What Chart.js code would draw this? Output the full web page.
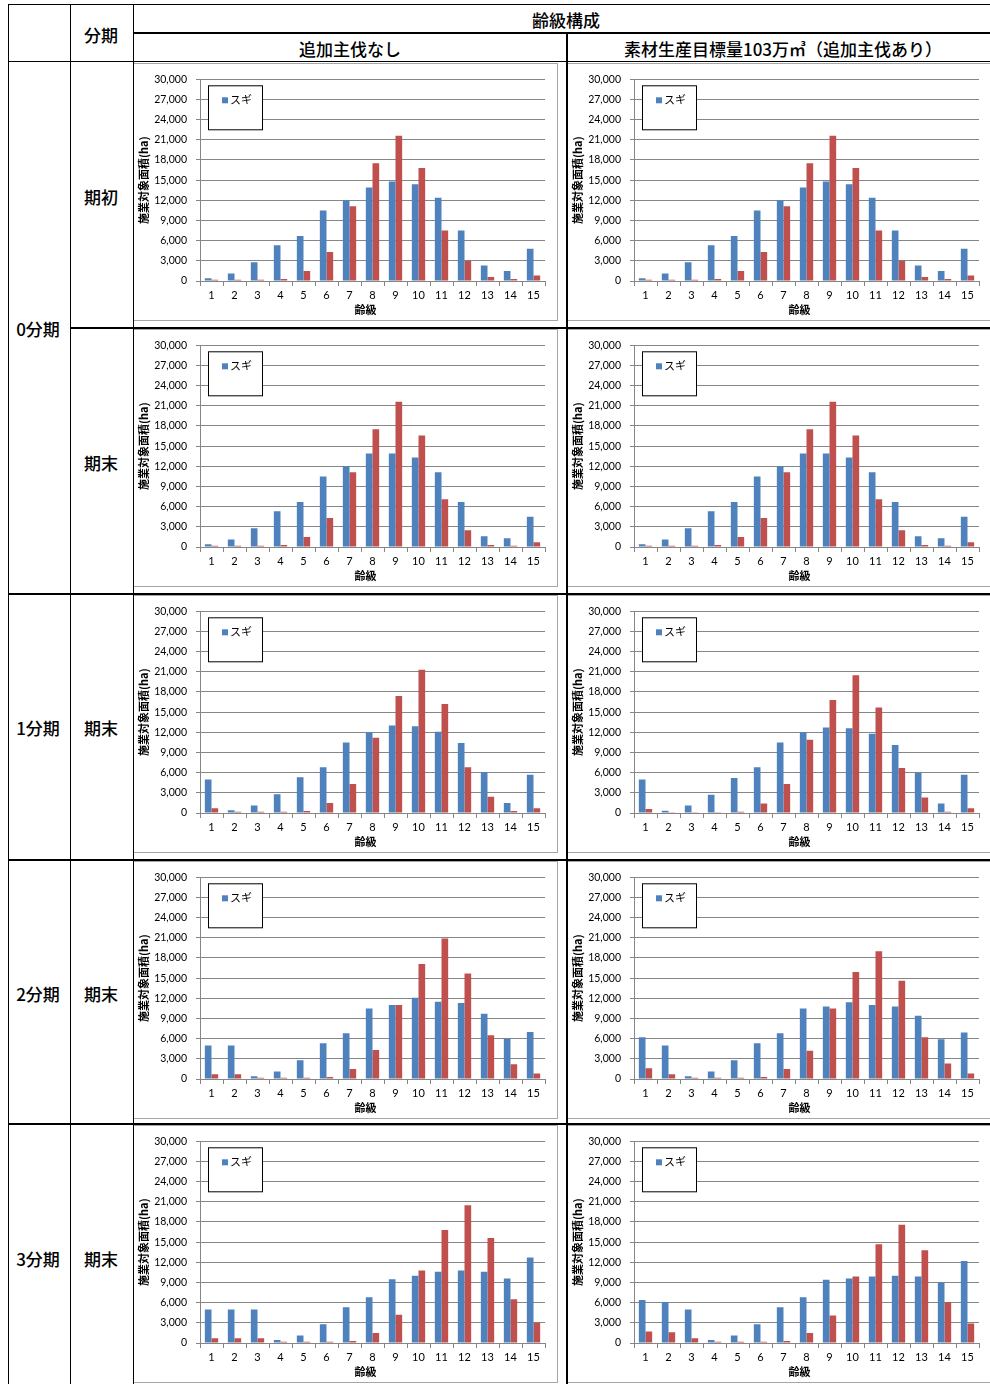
<!DOCTYPE html>
<html>
<head>
<meta charset="utf-8">
<script src="https://cdn.jsdelivr.net/npm/chart.js"></script>
<style>
  body { margin: 0; background: #fff; }
  #page { position: relative; width: 990px; height: 1384px; overflow: hidden; font-family: "Noto Sans CJK JP", sans-serif; }
  .ln { position: absolute; background: #000; }
  .lbl { position: absolute; transform: translate(-50%, -50%); font-size: 17px; font-weight: 500; white-space: nowrap; color: #000; }
  .box { position: absolute; border: 1px solid #a6a6a6; background: #fff; }
  .box canvas { display: block; }
</style>
</head>
<body>
<div id="page"></div>
<script>
const ageClasses = ['1', '2', '3', '4', '5', '6', '7', '8', '9', '10', '11', '12', '13', '14', '15'];
const yTickValues = [0, 3000, 6000, 9000, 12000, 15000, 18000, 21000, 24000, 27000, 30000];
const legendLabel = 'スギ';
const yTitle = '施業対象面積(ha)';
const xTitle = '齢級';

// 0分期 (same in both columns)
const blueP0Start = [400, 1100, 2800, 5300, 6700, 10500, 12000, 13900, 14800, 14400, 12400, 7500, 2300, 1500, 4800];
const redP0Start = [200, 200, 200, 300, 1500, 4300, 11100, 17500, 21600, 16800, 7500, 3000, 600, 300, 800];
const blueP0End = [400, 1100, 2800, 5300, 6700, 10500, 12000, 13900, 13900, 13300, 11100, 6700, 1600, 1300, 4500];
const redP0End = [200, 200, 200, 300, 1500, 4300, 11100, 17500, 21600, 16600, 7100, 2500, 300, 200, 700];

// 追加主伐なし
const blueP1None = [5000, 400, 1100, 2800, 5300, 6800, 10500, 12000, 13000, 12900, 12100, 10400, 6100, 1500, 5700];
const redP1None = [700, 200, 200, 200, 300, 1500, 4300, 11200, 17400, 21300, 16200, 6800, 2400, 300, 700];
const blueP2None = [5000, 5000, 400, 1100, 2800, 5300, 6800, 10500, 11000, 12100, 11500, 11300, 9700, 6000, 7000];
const redP2None = [700, 700, 200, 200, 200, 300, 1500, 4300, 11000, 17100, 20900, 15700, 6500, 2200, 800];
const blueP3None = [5000, 5000, 5000, 450, 1100, 2800, 5300, 6800, 9500, 10000, 10600, 10800, 10600, 9600, 12700];
const redP3None = [700, 700, 700, 200, 200, 200, 300, 1500, 4200, 10800, 16800, 20500, 15600, 6500, 3000];

// 素材生産目標量103万㎥（追加主伐あり）
const blueP1Add = [5000, 350, 1100, 2700, 5200, 6800, 10500, 12000, 12700, 12600, 11800, 10100, 6000, 1400, 5700];
const redP1Add = [600, 100, 100, 50, 200, 1400, 4300, 10900, 16800, 20500, 15700, 6700, 2300, 200, 700];
const blueP2Add = [6200, 5000, 400, 1100, 2800, 5300, 6800, 10500, 10800, 11400, 11000, 10800, 9400, 5900, 6900];
const redP2Add = [1600, 700, 200, 200, 200, 300, 1500, 4200, 10500, 15900, 19000, 14600, 6200, 2300, 800];
const blueP3Add = [6400, 6100, 5000, 450, 1100, 2800, 5300, 6800, 9400, 9600, 9900, 10000, 9900, 9000, 12200];
const redP3Add = [1700, 1600, 700, 200, 200, 200, 300, 1500, 4100, 9900, 14700, 17600, 13800, 6100, 2900];

const charts = [
  { row: 0, col: 0, blue: blueP0Start, red: redP0Start },
  { row: 0, col: 1, blue: blueP0Start, red: redP0Start },
  { row: 1, col: 0, blue: blueP0End, red: redP0End },
  { row: 1, col: 1, blue: blueP0End, red: redP0End },
  { row: 2, col: 0, blue: blueP1None, red: redP1None },
  { row: 2, col: 1, blue: blueP1Add, red: redP1Add },
  { row: 3, col: 0, blue: blueP2None, red: redP2None },
  { row: 3, col: 1, blue: blueP2Add, red: redP2Add },
  { row: 4, col: 0, blue: blueP3None, red: redP3None },
  { row: 4, col: 1, blue: blueP3Add, red: redP3Add },
];

const page = document.getElementById('page');
const rowTops = [62, 328, 594, 860, 1124];
const colLefts = [133, 567];

function line(x, y, w, h) {
  const d = document.createElement('div');
  d.className = 'ln';
  d.style.left = x + 'px'; d.style.top = y + 'px';
  d.style.width = w + 'px'; d.style.height = h + 'px';
  page.appendChild(d);
}
function label(text, x, y) {
  const d = document.createElement('div');
  d.className = 'lbl';
  d.textContent = text;
  d.style.left = x + 'px'; d.style.top = y + 'px';
  page.appendChild(d);
}

// boxed legend inside the plot + x title (Excel puts it a bit left of the plot centre)
const boxLegend = {
  id: 'boxLegend',
  afterDraw(chart) {
    const { ctx, chartArea } = chart;
    const ds = chart.data.datasets[0];
    const x = chartArea.left + 8, y = chartArea.top + 6;
    ctx.save();
    ctx.fillStyle = '#fff';
    ctx.fillRect(x, y, 54, 44);
    ctx.strokeStyle = '#000';
    ctx.lineWidth = 1;
    ctx.strokeRect(x + 0.5, y + 0.5, 54, 44);
    ctx.fillStyle = ds.backgroundColor;
    ctx.fillRect(x + 14, y + 12, 6, 6);
    ctx.fillStyle = '#000';
    ctx.font = '11px "Noto Sans CJK JP"';
    ctx.textBaseline = 'middle';
    ctx.fillText(ds.label, x + 22, y + 15);

    ctx.font = 'bold 11px "Noto Sans CJK JP"';
    ctx.textAlign = 'center';
    ctx.fillText(xTitle, (chartArea.left + chartArea.right) / 2 - 7, chartArea.bottom + 29);
    ctx.restore();
  }
};

charts.forEach(c => {
  const box = document.createElement('div');
  box.className = 'box';
  box.style.left = colLefts[c.col] + 'px';
  box.style.top = (rowTops[c.row] + 1) + 'px';
  const cv = document.createElement('canvas');
  cv.width = 423; cv.height = 256;
  box.appendChild(cv);
  page.appendChild(box);

  new Chart(cv.getContext('2d'), {
    type: 'bar',
    data: {
      labels: ageClasses,
      datasets: [
        { label: legendLabel, data: c.blue, backgroundColor: '#4F81BD', categoryPercentage: 0.58, barPercentage: 1.0 },
        { label: '', data: c.red, backgroundColor: '#C0504D', categoryPercentage: 0.58, barPercentage: 1.0 }
      ]
    },
    options: {
      responsive: false,
      animation: false,
      devicePixelRatio: 1,
      layout: { padding: { left: 0, right: 12, top: 15, bottom: 0 } },
      plugins: { legend: { display: false }, tooltip: { enabled: false } },
      scales: {
        x: {
          afterFit: s => { s.height = 39; },
          grid: { display: true, drawOnChartArea: false, tickLength: 5, color: '#868686', offset: true },
          border: { color: '#868686' },
          ticks: { color: '#000', padding: 3, font: { family: 'Lato', size: 11 } }
        },
        y: {
          min: 0, max: 30000,
          afterFit: s => { s.width = 66; },
          afterBuildTicks: s => { s.ticks = yTickValues.map(v => ({ value: v })); },
          grid: { color: '#868686', tickLength: 4 },
          border: { color: '#868686' },
          ticks: { color: '#000', padding: 9, font: { family: 'Lato', size: 10.5 }, callback: v => v.toLocaleString('en-US') },
          title: { display: true, text: yTitle, color: '#000', padding: { top: 3, bottom: 0 }, font: { family: 'Noto Sans CJK JP', size: 11, weight: 'bold' } }
        }
      }
    },
    plugins: [boxLegend]
  });
});

// table rules
line(8, 4, 982, 1);
line(133, 32, 857, 2);
line(8, 61, 982, 1);
line(70, 327, 920, 2);
line(8, 593, 982, 2);
line(8, 859, 982, 2);
line(8, 1123, 982, 2);
line(8, 4, 1, 1380);
line(70, 4, 1, 1380);
line(133, 4, 1, 1380);
line(566, 33, 2, 1351);

label('分期', 101, 34);
label('齢級構成', 566, 19);
label('追加主伐なし', 350, 48);
label('素材生産目標量103万㎥（追加主伐あり）', 783, 48);
label('0分期', 38, 328);
label('1分期', 38, 727);
label('2分期', 38, 993);
label('3分期', 38, 1258);
label('期初', 101, 196);
label('期末', 101, 462);
label('期末', 101, 727);
label('期末', 101, 993);
label('期末', 101, 1258);
</script>
</body>
</html>
